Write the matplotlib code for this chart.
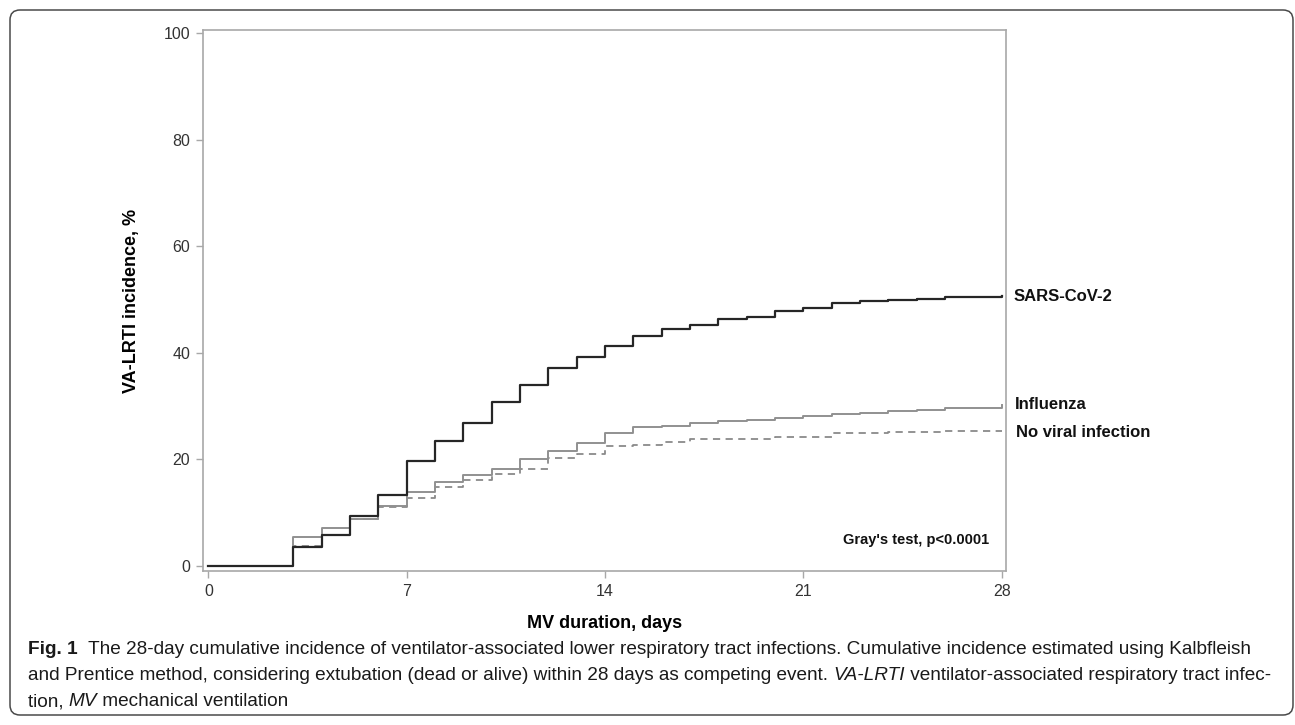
import numpy as np
import matplotlib.pyplot as plt
from matplotlib.patches import FancyBboxPatch
from matplotlib.transforms import IdentityTransform

# Data, cumulative incidence % at day 0..28
days = np.arange(0, 29)
sars = [0, 0, 0, 3.6, 5.8, 9.3, 13.3, 19.8, 23.5, 26.9, 30.8, 34.0, 37.2, 39.3, 41.2,
        43.1, 44.5, 45.3, 46.4, 46.8, 47.9, 48.5, 49.4, 49.7, 49.9, 50.2, 50.4, 50.4, 50.6]
influenza = [0, 0, 0, 5.5, 7.2, 8.9, 11.2, 13.8, 15.7, 17.1, 18.3, 20.1, 21.5, 23.0, 24.9,
             26.0, 26.3, 26.9, 27.2, 27.4, 27.7, 28.2, 28.6, 28.8, 29.0, 29.2, 29.6, 29.6, 30.3]
no_viral = [0, 0, 0, 3.7, 5.8, 8.9, 11.1, 12.8, 14.9, 16.2, 17.2, 18.3, 20.3, 21.1, 22.5,
            22.8, 23.3, 23.9, 23.9, 23.9, 24.3, 24.3, 25.0, 25.0, 25.1, 25.2, 25.3, 25.3, 25.3]

x_ticks = [0, 7, 14, 21, 28]
y_ticks = [0, 20, 40, 60, 80, 100]

plt.rcParams['font.family'] = ['Liberation Sans', 'DejaVu Sans']

fig = plt.figure(figsize=(12.95, 7.25), dpi=100)
ax = fig.add_axes([0.1565, 0.2124, 0.6203, 0.7462])

ax.step(days, no_viral, where="post", color="#8a8a8a", lw=1.3, linestyle=(0, (4, 3)))
ax.step(days, influenza, where="post", color="#909090", lw=1.4)
ax.step(days, sars, where="post", color="#262626", lw=1.6)

ax.set_xlim(-0.2, 28.15)
ax.set_ylim(-0.94, 100.6)
ax.set_xticks(x_ticks)
ax.set_yticks(y_ticks)
for s in ax.spines.values():
    s.set_color("#a8a8a8")
    s.set_linewidth(1.2)
ax.tick_params(length=5, width=1, color="#a8a8a8", labelsize=11.5, labelcolor="#333333", pad=4)

ax.set_xlabel("MV duration, days", fontsize=13, fontweight="bold", labelpad=12)
ax.set_ylabel("VA-LRTI incidence, %", fontsize=13, fontweight="bold", labelpad=17)

# curve labels
lab = dict(fontsize=12, fontweight="bold", va="center", clip_on=False, color="#111111")
ax.text(28.4, 50.5, "SARS-CoV-2", **lab)
ax.text(28.47, 30.4, "Influenza", **lab)
ax.text(28.5, 25.0, "No viral infection", **lab)
ax.text(27.55, 4.9, "Gray's test, p<0.0001", fontsize=10.5, fontweight="bold",
        ha="right", va="center", color="#111111")

# rounded frame around whole figure
frame = FancyBboxPatch((10, 10), 1283, 705, boxstyle="round,pad=0,rounding_size=10",
                       transform=IdentityTransform(), fill=False, ec="#4a4a4a", lw=1.1)
fig.patches.append(frame)

# caption, drawn as runs of text so parts can be bold / italic
cap_font = ['Liberation Sans', 'DejaVu Sans']
lines = [
    [("Fig. 1", "bold", "normal"),
     ("  The 28-day cumulative incidence of ventilator-associated lower respiratory tract infections. "
      "Cumulative incidence estimated using Kalbfleish", "normal", "normal")],
    [("and Prentice method, considering extubation (dead or alive) within 28 days as competing event. ",
      "normal", "normal"),
     ("VA-LRTI", "normal", "italic"),
     (" ventilator-associated respiratory tract infec-", "normal", "normal")],
    [("tion, ", "normal", "normal"), ("MV", "normal", "italic"),
     (" mechanical ventilation", "normal", "normal")],
]
line_y = [650, 676, 702]
line_end = [1278, 1282]
renderer = fig.canvas.get_renderer()


def draw_line(runs, y_px, size):
    x = 28
    for txt, weight, style in runs:
        t = fig.text(x / 1295, 1 - y_px / 725, txt, fontsize=size, fontweight=weight,
                     fontstyle=style, family=cap_font, va="center", ha="left", color="#1a1a1a")
        x += t.get_window_extent(renderer).width
    return x


# fit the caption to the width used in the reference
scales = []
for runs, end in zip(lines[:2], line_end):
    w = draw_line(runs, -100, 10)
    scales.append((end - 28) / (w - 28))
for t in fig.texts[:]:
    t.remove()
cap_size = 10 * min(scales)
for runs, y in zip(lines, line_y):
    draw_line(runs, y, cap_size)

fig.savefig("out.png", dpi=100)
